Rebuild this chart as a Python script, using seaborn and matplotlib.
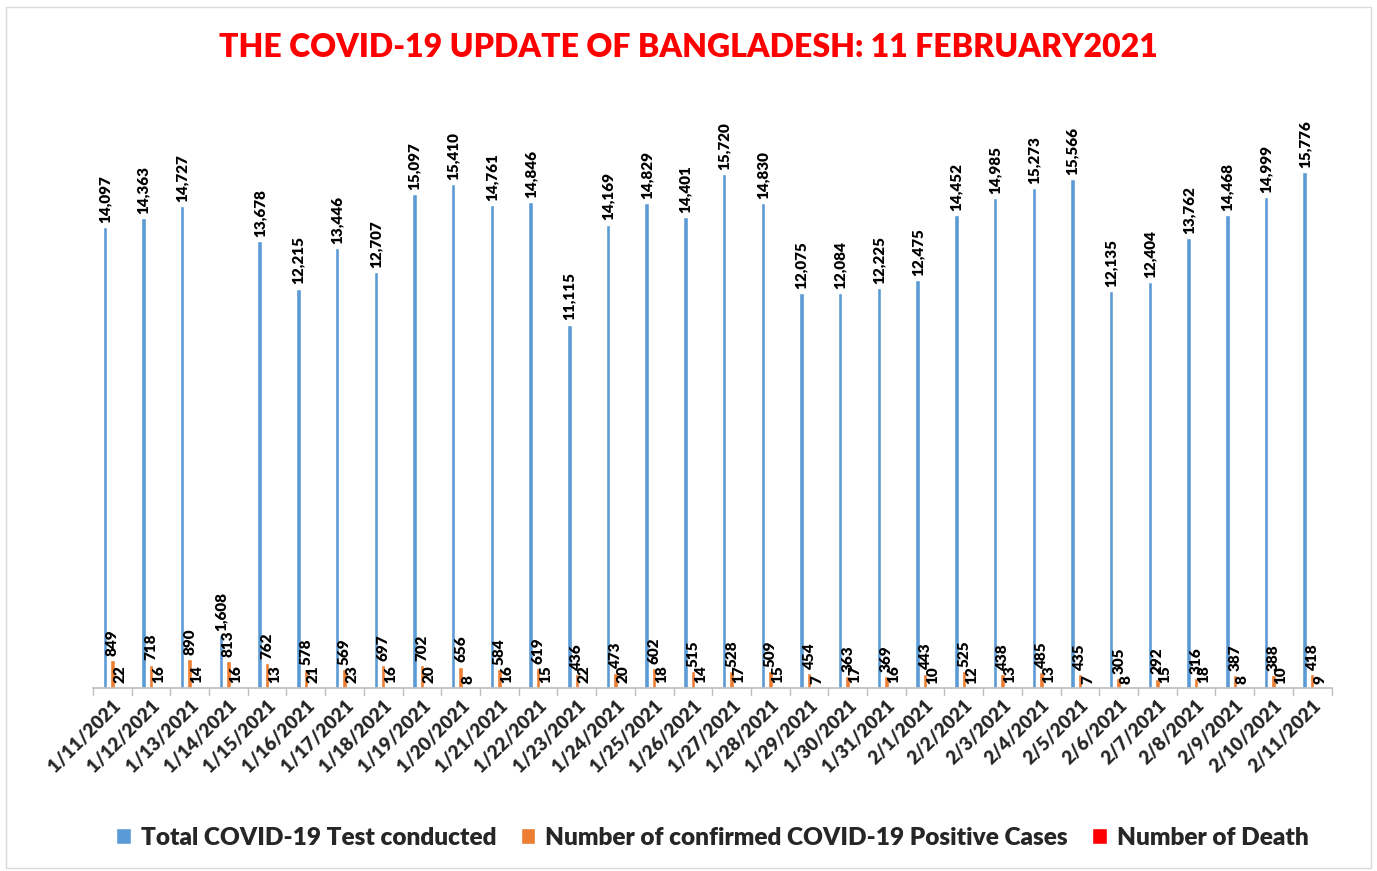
import pandas as pd
import matplotlib
matplotlib.use("Agg")
import matplotlib.pyplot as plt
import seaborn as sns

# ---- data ----
dates = ["1/11/2021", "1/12/2021", "1/13/2021", "1/14/2021", "1/15/2021", "1/16/2021",
         "1/17/2021", "1/18/2021", "1/19/2021", "1/20/2021", "1/21/2021", "1/22/2021",
         "1/23/2021", "1/24/2021", "1/25/2021", "1/26/2021", "1/27/2021", "1/28/2021",
         "1/29/2021", "1/30/2021", "1/31/2021", "2/1/2021", "2/2/2021", "2/3/2021",
         "2/4/2021", "2/5/2021", "2/6/2021", "2/7/2021", "2/8/2021", "2/9/2021",
         "2/10/2021", "2/11/2021"]
tests = [14097, 14363, 14727, 1608, 13678, 12215, 13446, 12707, 15097, 15410, 14761, 14846,
         11115, 14169, 14829, 14401, 15720, 14830, 12075, 12084, 12225, 12475, 14452, 14985,
         15273, 15566, 12135, 12404, 13762, 14468, 14999, 15776]
positive = [849, 718, 890, 813, 762, 578, 569, 697, 702, 656, 584, 619,
            436, 473, 602, 515, 528, 509, 454, 363, 369, 443, 525, 438,
            485, 435, 305, 292, 316, 387, 388, 418]
deaths = [22, 16, 14, 16, 13, 21, 23, 16, 20, 8, 16, 15,
          22, 20, 18, 14, 17, 15, 7, 17, 16, 10, 12, 13,
          13, 7, 8, 15, 18, 8, 10, 9]

series = ["Total COVID-19 Test conducted",
          "Number of confirmed COVID-19 Positive Cases",
          "Number of Death"]
colors = ["#5B9BD5", "#ED7D31", "#FF0000"]

df = pd.DataFrame({"date": dates * 3,
                   "value": tests + positive + deaths,
                   "series": [series[0]] * len(dates) + [series[1]] * len(dates) + [series[2]] * len(dates)})

sns.set_theme(style="white")
plt.rcParams["font.family"] = ["Lato", "DejaVu Sans"]

fig = plt.figure(figsize=(13.77, 8.71), dpi=100)
ax = fig.add_axes([0.0675, 0.21, 0.8995, 0.676])

sns.barplot(data=df, x="date", y="value", hue="series", order=dates, hue_order=series,
            palette=colors, width=0.58, gap=0.4, ax=ax, saturation=1)

# value labels, rotated like the original
for cont in ax.containers:
    ax.bar_label(cont, labels=[f"{v:,.0f}" for v in cont.datavalues],
                 rotation=90, padding=3, fontsize=11, fontweight="heavy", color="black")

ax.set_ylim(0, 18000)
ax.set_xlim(-0.5, len(dates) - 0.5)
ax.set_xlabel("")
ax.set_ylabel("")
ax.set_yticks([])
for s in ["top", "right", "left"]:
    ax.spines[s].set_visible(False)
ax.spines["bottom"].set_color("#BFBFBF")

# tick labels and boundary tick marks
ax.set_xticks(range(len(dates)))
ax.set_xticklabels(dates, rotation=45, ha="right", rotation_mode="anchor",
                   fontsize=13.5, fontweight="heavy")
ax.tick_params(axis="x", length=0, pad=6)
for i in range(len(dates) + 1):
    ax.plot([i - 0.5, i - 0.5], [0, -220], color="#BFBFBF", lw=1, clip_on=False)

sns.move_legend(ax, "lower center", bbox_to_anchor=(0.5, -0.31), ncol=3, frameon=False,
                title=None, prop={"weight": "heavy", "size": 17.6},
                handlelength=0.6, handleheight=0.6, handletextpad=0.4, columnspacing=1.0)

fig.text(0.5, 0.945, "THE COVID-19 UPDATE OF BANGLADESH: 11 FEBRUARY2021",
         ha="center", va="center", color="#FF0000", fontsize=23, fontweight="heavy")

# chart border
fig.patches.append(plt.Rectangle((0.004, 0.004), 0.992, 0.988, transform=fig.transFigure,
                                 fill=False, edgecolor="#D9D9D9", lw=1))

fig.savefig("out.png", dpi=100)
